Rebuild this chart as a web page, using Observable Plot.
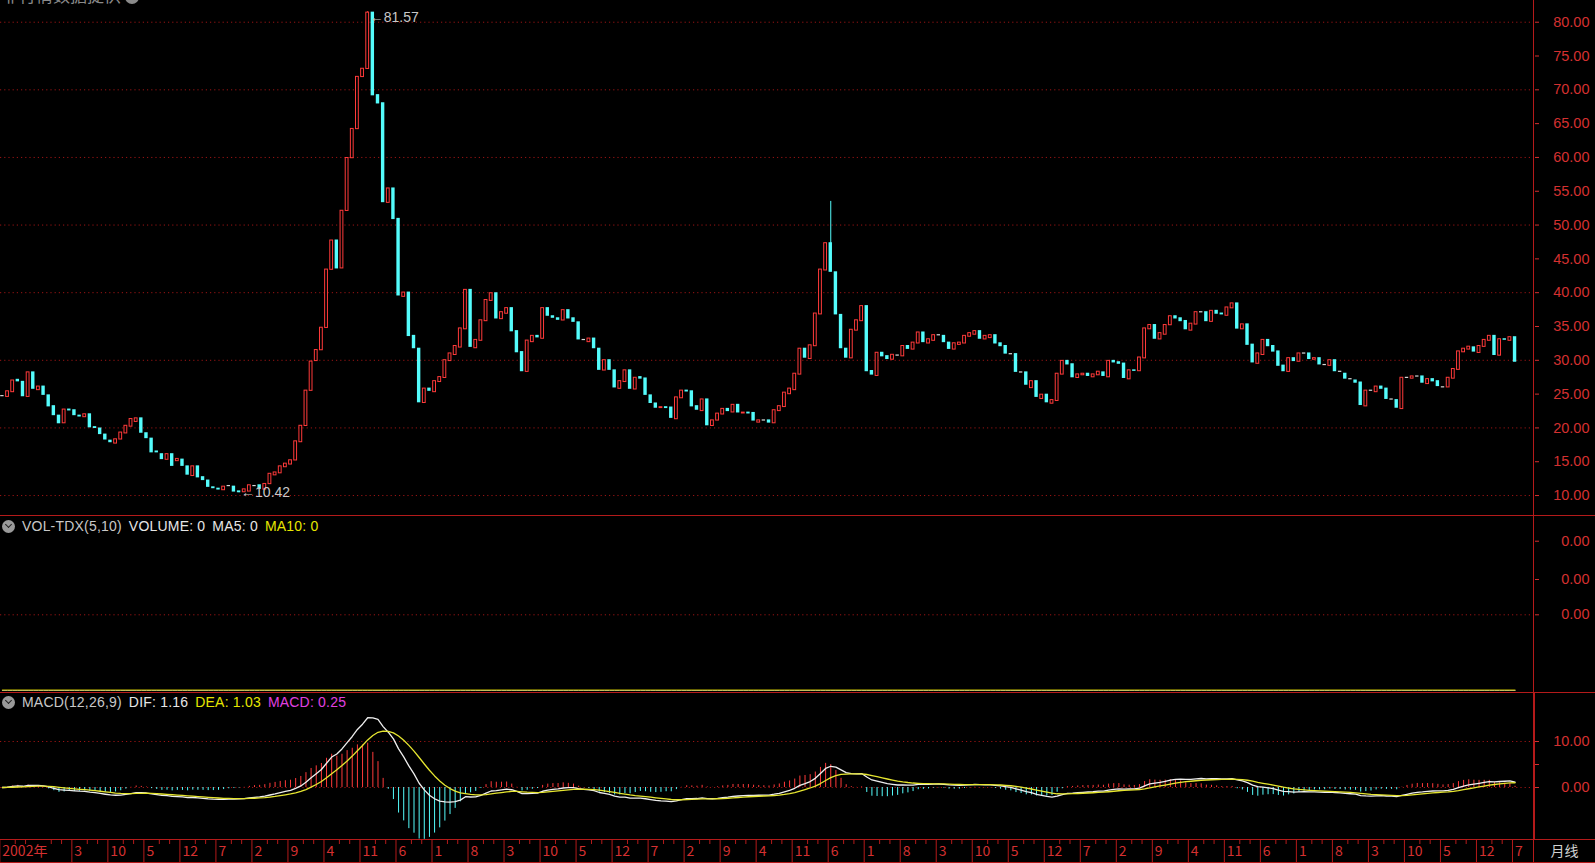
<!DOCTYPE html>
<html><head><meta charset="utf-8">
<script src="https://cdn.jsdelivr.net/npm/d3@7"></script>
<script src="https://cdn.jsdelivr.net/npm/@observablehq/plot@0.6"></script>
<style>
html,body{margin:0;padding:0;background:#000;width:1595px;height:863px;overflow:hidden;font-family:"Liberation Sans",Arial,sans-serif;}
#root{position:relative;width:1595px;height:863px;background:#000;overflow:hidden;}
.pnl{position:absolute;left:0;width:1595px;}
.pnl svg{display:block;}
.hl{position:absolute;left:0;width:1595px;height:1px;background:#b41a1a;}
.vl{position:absolute;left:1533px;width:1px;background:#b41a1a;}
.hdr{position:absolute;left:2px;font-size:14px;white-space:nowrap;color:#c8c8c8;display:flex;align-items:center;letter-spacing:0.2px;}
.hdr span{margin-right:7px;}
.ico{display:inline-block;width:13px;height:13px;border-radius:50%;background:#9a9a9a;margin-right:5px;position:relative;}
.ico:after{content:"";position:absolute;left:3.5px;top:2.5px;width:4px;height:4px;border-right:1.6px solid #222;border-bottom:1.6px solid #222;transform:rotate(45deg);}
#title{position:absolute;left:2px;top:-17px;font-size:17px;line-height:24px;color:#8a8a8a;font-family:"Noto Sans CJK SC",sans-serif;}
</style>
</head><body>
<div id="root">
  <div class="pnl" id="price" style="top:0"></div>
  <div class="pnl" id="vol" style="top:516px"></div>
  <div class="pnl" id="macd" style="top:693px"></div>
  <div class="pnl" id="axis" style="top:840px"></div>
  <div id="title">非行情数据提供 <span style="display:inline-block;width:14px;height:14px;border-radius:50%;background:#8a8a8a;vertical-align:middle"></span></div>
  <div class="hl" style="top:515px"></div>
  <div class="hl" style="top:692px"></div>
  <div class="hl" style="top:839px"></div>
  <div class="hl" style="top:862px"></div>
  <div class="vl" style="top:0;height:863px"></div>
  <div class="vl" style="top:693px;height:147px;left:1534px"></div>
  <div class="hdr" id="volHdr" style="top:518px"></div>
  <div class="hdr" id="macdHdr" style="top:694px"></div>
</div>
<script>
// ---------- data (monthly candles, 2002-01 .. 2026-07) ----------
const opens = [
24.7,24.6,25.3,27.1,26.8,24.6,28.2,25.6,26.1,24.8,
23.2,21.8,20.7,22.7,22.6,21.8,21.6,22.0,20.1,19.9,
19.0,18.1,17.7,18.3,19.2,20.2,20.9,21.4,19.2,18.4,
16.5,16.1,15.3,16.1,15.1,15.3,14.3,12.9,14.3,12.7,
12.2,11.2,11.0,10.8,11.4,11.3,10.6,10.5,10.6,11.4,
11.5,10.9,11.7,13.0,13.3,14.2,14.6,15.2,17.9,20.3,
25.5,29.9,31.5,34.8,43.4,47.7,43.6,52.1,59.9,64.2,
71.9,73.1,81.4,69.2,68.0,53.3,55.4,50.9,39.4,40.0,
33.6,31.7,23.7,25.8,25.3,26.8,27.4,29.9,30.8,31.9,
34.6,40.4,31.8,32.9,35.8,38.8,39.9,36.1,36.9,37.7,
34.3,31.2,28.3,32.7,33.6,33.2,37.7,36.5,36.2,35.9,
37.4,36.2,35.6,33.0,32.7,33.2,31.7,28.5,30.0,28.5,
25.8,26.8,28.5,25.7,27.5,27.3,24.8,23.6,22.95,23.05,
23.0,21.3,24.4,25.5,25.4,23.2,22.5,24.2,20.3,21.1,
22.0,22.8,22.3,23.4,22.15,22.25,22.2,20.8,21.1,21.1,
20.7,22.5,23.1,25.0,25.6,27.9,31.7,30.2,32.1,36.8,
43.3,47.3,43.0,36.7,31.7,30.3,34.4,35.8,38.0,28.4,
27.7,31.1,30.6,30.1,30.7,30.6,32.1,31.6,32.5,34.1,
32.5,32.9,33.7,33.6,32.6,31.6,32.3,32.5,33.5,33.8,
34.3,33.1,33.3,33.7,32.5,32.1,30.9,30.9,28.2,28.2,
25.9,26.9,24.3,24.9,23.6,24.0,27.9,29.9,29.4,27.4,
27.8,28.0,27.5,27.8,28.2,27.5,29.9,29.7,29.5,27.2,
28.5,28.4,30.3,34.6,35.2,33.1,33.8,35.2,36.5,36.2,
35.8,34.4,35.3,37.1,37.1,35.7,37.3,36.9,36.6,37.7,
38.4,34.6,35.3,32.3,29.5,30.8,33.0,32.1,31.3,29.2,
28.3,30.3,29.8,31.0,31.0,30.1,30.3,29.3,29.2,30.0,
28.3,28.0,27.2,27.0,26.7,23.2,25.5,25.3,26.1,25.8,
24.2,24.1,22.8,27.4,27.3,27.6,27.6,26.5,27.2,26.9,
26.0,26.0,27.3,28.6,31.2,31.6,31.9,31.1,32.0,32.9,
33.6,30.7,33.1,32.9,33.4];
const closes = [
24.7,25.4,27.0,26.9,24.7,28.2,25.8,26.1,24.9,23.2,
21.9,20.7,22.7,22.6,21.9,21.7,22.0,20.1,20.0,19.1,
18.3,17.9,18.3,19.3,20.3,21.3,21.4,19.3,18.5,16.4,
16.4,15.4,16.1,14.4,15.4,14.4,13.1,14.3,12.7,12.3,
11.3,11.1,10.9,11.3,11.4,10.6,10.5,10.9,11.5,11.4,
11.0,11.7,13.2,13.4,14.3,14.7,15.2,18.0,20.3,25.5,
29.8,31.5,34.8,43.4,47.7,43.6,52.1,59.9,64.2,71.9,
73.1,81.4,69.2,68.0,53.4,55.4,50.9,39.6,40.0,33.6,
31.8,23.8,25.8,25.5,26.9,27.5,30.0,31.0,32.1,34.7,
40.4,32.0,33.0,35.9,38.9,39.9,36.2,37.1,37.7,34.3,
31.2,28.4,32.9,33.6,33.4,37.7,36.6,36.3,36.0,37.4,
36.2,35.7,33.1,33.0,33.2,31.8,28.6,30.0,28.6,26.0,
26.9,28.5,25.8,27.4,27.3,24.9,23.7,23.0,23.05,22.95,
21.5,24.5,25.5,25.4,23.2,22.7,24.2,20.4,21.1,22.1,
22.8,22.5,23.4,22.3,22.25,22.15,21.1,21.1,21.1,20.8,
22.6,23.2,25.2,25.8,28.0,31.7,30.4,32.2,36.9,43.4,
47.3,43.1,36.8,31.8,30.4,34.5,35.9,38.0,28.4,27.9,
31.1,30.6,30.2,30.8,30.7,32.1,31.7,32.6,34.1,32.7,
33.1,33.7,33.7,32.7,31.7,32.5,32.6,33.6,34.0,34.3,
33.2,33.6,33.7,32.5,32.1,31.0,30.9,28.3,28.2,26.4,
26.9,24.6,24.9,23.8,24.1,28.0,29.9,29.4,27.5,27.9,
28.0,27.7,27.9,28.3,27.7,29.9,29.7,29.5,27.4,28.5,
28.45,30.4,34.7,35.2,33.2,34.0,35.2,36.5,36.2,35.8,
34.6,35.4,37.1,37.1,35.8,37.3,36.9,36.8,37.8,38.4,
34.7,35.3,32.3,29.7,31.0,33.0,32.1,31.3,29.2,28.4,
30.3,29.9,31.0,31.0,30.2,30.3,29.4,29.3,30.0,28.4,
28.3,27.3,27.2,26.7,23.4,25.5,25.5,26.1,25.8,24.3,
24.2,23.0,27.4,27.4,27.6,27.6,26.7,27.2,26.9,26.2,
26.0,27.4,28.7,31.3,31.7,32.0,31.3,32.1,33.0,33.6,
30.8,33.1,33.05,33.4,29.8];
// visible shadows (index, low, high)
const wicks = [
  {i:46, low:10.42, high:10.6},
  {i:71, low:73.1, high:81.57},
  {i:161, low:43.1, high:53.5}
];
const highMark = [{i:71, v:81.57, t:"←81.57"}];
const lowMark = [{i:46, v:10.42, t:"←10.42"}];
const volume = closes.map(() => 0);          // VOLUME: 0 for every month
const priceTicks = [10,15,20,25,30,35,40,45,50,55,60,65,70,75,80];
const priceGrid = [10,20,30,40,50,60,70,80];
const volTicks = [0.435, 0.638, 0.858];
const macdTicks = [0, 5, 10];
const macdGrid = [0, 10];
const tickIdx = [0,14,21,28,35,42,49,56,63,70,77,84,91,98,105,112,119,126,133,140,147,154,161,168,175,182,189,196,203,210,217,224,231,238,245,252,259,266,273,280,287,294];
const tickLabels = ["2002年","3","10","5","12","7","2","9","4","11","6","1","8","3","10","5","12","7","2","9","4","11","6","1","8","3","10","5","12","7","2","9","4","11","6","1","8","3","10","5","12","7"];
const volHeader = [["VOL-TDX(5,10)","#c8c8c8"],["VOLUME: 0","#e6e6e6"],["MA5: 0","#e6e6e6"],["MA10: 0","#e6e600"]];
const macdHeader = [["MACD(12,26,9)","#c8c8c8"],["DIF: 1.16","#e6e6e6"],["DEA: 1.03","#e6e600"],["MACD: 0.25","#e040e0"]];

// ---------- styling ----------
const RED = "#ff3a3a", CYAN = "#54fcfc", DOJI = "#d8d8d8";
const GRID = "#9a1414", AXC = "#d43030";
const FONT = "Liberation Sans, Arial, sans-serif";
const W = 1595, MR = 61;
const xs = {type:"linear", domain:[-0.369, 297.78], axis:null};
const HALF = 0.33, HALF_UP = 0.37;

const candles = opens.map((o,i) => ({i, o, c:closes[i], lo:Math.min(o,closes[i]), hi:Math.max(o,closes[i])}));
const up = candles.filter(d => d.c > d.o), down = candles.filter(d => d.c < d.o), flat = candles.filter(d => d.c === d.o);

// MACD(12,26,9) derived from the closes
function ema(arr, n){ const out=[]; arr.forEach((v,k)=>{ out.push(k===0 ? v : (2*v + (n-1)*out[k-1])/(n+1)); }); return out; }
const e12 = ema(closes,12), e26 = ema(closes,26);
const dif = e12.map((v,k)=>v-e26[k]);
const dea = ema(dif,9);
const macd = dif.map((v,k)=>({i:k, dif:v, dea:dea[k], m:2*(v-dea[k])}));

// ---------- price panel ----------
const price = Plot.plot({
  width:W, height:516, marginLeft:0, marginRight:MR, marginTop:0, marginBottom:0,
  style:{background:"transparent", fontFamily:FONT, overflow:"hidden"},
  x:xs, y:{domain:[6.90, 83.21], label:null},
  marks:[
    Plot.gridY(priceGrid, {stroke:GRID, strokeOpacity:1, strokeDasharray:"1.2,3"}),
    Plot.ruleX(wicks.filter(d=>closes[d.i]<opens[d.i]), {x:"i", y1:"low", y2:"high", stroke:CYAN, strokeWidth:1}),
    Plot.ruleX(wicks.filter(d=>closes[d.i]>=opens[d.i]), {x:"i", y1:"low", y2:"high", stroke:RED, strokeWidth:1}),
    Plot.rect(down, {x1:d=>d.i-HALF, x2:d=>d.i+HALF, y1:"lo", y2:"hi", fill:CYAN, insetTop:-0.6, insetBottom:-0.6}),
    Plot.rect(flat, {x1:d=>d.i-HALF, x2:d=>d.i+HALF, y1:"lo", y2:"hi", fill:DOJI, insetTop:-0.6, insetBottom:-0.6}),
    Plot.rect(up, {x1:d=>d.i-HALF_UP, x2:d=>d.i+HALF_UP, y1:"lo", y2:"hi", fill:"#000", stroke:RED, strokeWidth:1, insetLeft:0.5, insetRight:0.5, insetTop:-0.1, insetBottom:-0.1}),
    Plot.text(highMark, {x:"i", y:"v", text:"t", dy:6, dx:2, textAnchor:"start", fill:"#c8c8c8", fontSize:14}),
    Plot.text(lowMark, {x:"i", y:"v", text:"t", dy:0, dx:2, textAnchor:"start", fill:"#c8c8c8", fontSize:14}),
    Plot.axisY({anchor:"right", ticks:priceTicks, tickFormat:d=>d.toFixed(2), tickSize:4, tickPadding:51, textAnchor:"end", color:AXC, fontSize:14.5, label:null})
  ]
});
document.getElementById("price").append(price);

// ---------- volume panel ----------
const volData = volume.map((v,i)=>({i, v}));
const vol = Plot.plot({
  width:W, height:177, marginLeft:0, marginRight:MR, marginTop:0, marginBottom:0,
  style:{background:"transparent", fontFamily:FONT, overflow:"hidden"},
  x:xs, y:{domain:[0,1], range:[174,0], label:null},
  marks:[
    Plot.gridY([volTicks[0]], {stroke:GRID, strokeOpacity:1, strokeDasharray:"1.2,3"}),
    Plot.lineY(volData, {x:"i", y:"v", stroke:"#bdbdbd", strokeWidth:1}),
    Plot.lineY(volData, {x:"i", y:"v", stroke:"#c8bf00", strokeWidth:1.2, dy:-0.5}),
    Plot.axisY({anchor:"right", ticks:volTicks, tickFormat:()=>"0.00", tickSize:4, tickPadding:51, textAnchor:"end", color:AXC, fontSize:14.5, label:null})
  ]
});
document.getElementById("vol").append(vol);

// ---------- MACD panel ----------
const mac = Plot.plot({
  width:W, height:147, marginLeft:0, marginRight:MR, marginTop:0, marginBottom:0,
  style:{background:"transparent", fontFamily:FONT, overflow:"hidden"},
  x:xs, y:{domain:[-(147-94)/4.6, 94/4.6], label:null},
  marks:[
    Plot.gridY(macdGrid, {stroke:GRID, strokeOpacity:1, strokeDasharray:"1.2,3"}),
    Plot.ruleX(macd.filter(d=>d.m>=0), {x:"i", y1:0, y2:"m", stroke:RED, strokeWidth:1}),
    Plot.ruleX(macd.filter(d=>d.m<0), {x:"i", y1:0, y2:"m", stroke:CYAN, strokeWidth:1}),
    Plot.lineY(macd, {x:"i", y:"dif", stroke:"#eeeeee", strokeWidth:1.3}),
    Plot.lineY(macd, {x:"i", y:"dea", stroke:"#e6e630", strokeWidth:1.3}),
    Plot.axisY({anchor:"right", ticks:macdTicks, tickFormat:d=>d===5?"":d.toFixed(2), tickSize:4, tickPadding:51, textAnchor:"end", color:AXC, fontSize:14.5, label:null})
  ]
});
document.getElementById("macd").append(mac);

// ---------- bottom time axis ----------
const ticks = tickIdx.map((i,k)=>({i, t:tickLabels[k]}));
const minor = [];
[7, ...tickIdx].forEach(i => { [3,5].forEach(o => { if (i+o <= 294) minor.push(i+o); }); });
const ax = Plot.plot({
  width:W, height:22, marginLeft:0, marginRight:MR, marginTop:0, marginBottom:0,
  style:{background:"transparent", fontFamily:FONT, overflow:"hidden"},
  x:xs, y:{axis:null},
  marks:[
    Plot.ruleX(ticks, {x:d=>d.i-0.5, stroke:"#b41a1a", strokeWidth:1}),
    Plot.ruleX(minor, {x:d=>d-0.5, stroke:"#b41a1a", strokeWidth:1, insetBottom:18}),
    Plot.text(ticks, {x:d=>d.i-0.5, text:"t", dx:2.5, textAnchor:"start", frameAnchor:"middle", fill:AXC, fontSize:14, fontFamily:"Noto Sans CJK SC, Liberation Sans, sans-serif"}),
    Plot.text(["月线"], {frameAnchor:"right", dx:30, textAnchor:"middle", fill:"#d0d0d0", fontSize:14, fontFamily:"Noto Sans CJK SC, sans-serif"})
  ]
});
document.getElementById("axis").append(ax);

// ---------- headers ----------
function hdr(id, items){
  const el = document.getElementById(id);
  const ic = document.createElement("span"); ic.className="ico"; el.append(ic);
  items.forEach(([t,c])=>{ const s=document.createElement("span"); s.textContent=t; s.style.color=c; el.append(s); });
}
hdr("volHdr", volHeader);
hdr("macdHdr", macdHeader);
</script>
</body></html>
